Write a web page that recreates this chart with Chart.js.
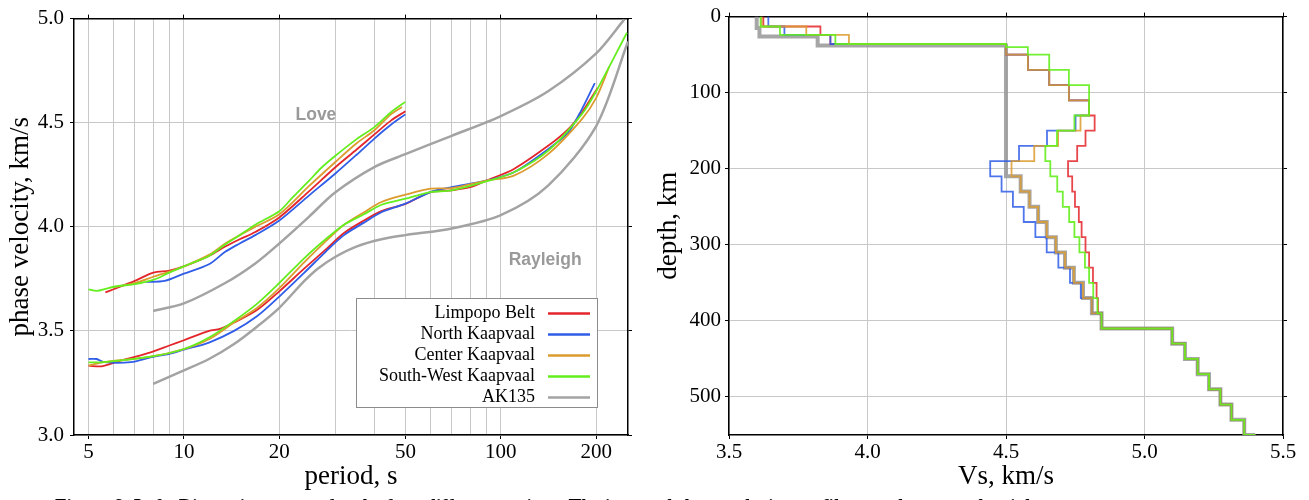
<!DOCTYPE html>
<html>
<head>
<meta charset="utf-8">
<script src="https://cdn.jsdelivr.net/npm/chart.js@4.4.1/dist/chart.umd.min.js"></script>
<style>
  body { margin:0; background:#fff; width:1309px; height:500px; overflow:hidden; position:relative; }
  canvas { position:absolute; top:0; }
  #left { left:0; }
  #right { left:650px; }
  #caption { position:absolute; left:55px; top:496px; font:bold 19px/19px "Liberation Serif", serif; white-space:nowrap; color:#000; }
</style>
</head>
<body>
<canvas id="left" width="650" height="500"></canvas>
<canvas id="right" width="659" height="500"></canvas>
<div id="caption">Figure 6: Left: Dispersion curves for the four different regions. The inverted shear-velocity profiles are shown on the right.</div>
<script>
// ---- left panel: phase velocity vs period ----
const periodGrid = [5,6,7,8,9,10,20,30,40,50,60,70,80,90,100,200];
const periodLabels = [5,10,20,50,100,200];
const velocityTicks = [3.0,3.5,4.0,4.5,5.0];

const loveLimpopoT = [5.65,6,7,8,9,10,12,13.5,15,16.8,20,24.8,30,35,40,45,50];
const loveLimpopoV = [3.685,3.70,3.74,3.78,3.79,3.81,3.86,3.905,3.94,3.975,4.045,4.17,4.285,4.37,4.445,4.51,4.555];
const loveNorthT = [7.6,8.7,10,12,13.5,15,16.8,20,24.8,30,35,40,45,50];
const loveNorthV = [3.735,3.74,3.775,3.82,3.88,3.92,3.96,4.03,4.15,4.255,4.345,4.425,4.49,4.54];
const loveCenterT = [6,7,8,9,10,12,13.5,15,16.8,20,24.8,30,35,40,45,48.8];
const loveCenterV = [3.71,3.73,3.76,3.785,3.81,3.865,3.92,3.96,4.0,4.06,4.195,4.31,4.40,4.465,4.54,4.575];
const loveSWT = [5,5.3,5.7,6,7,8,9,10,11,12,13.5,15,16.8,20,22,24.8,27,30,35,40,45,50];
const loveSWV = [3.70,3.692,3.703,3.712,3.725,3.745,3.78,3.81,3.835,3.86,3.915,3.96,4.01,4.075,4.14,4.22,4.28,4.34,4.42,4.48,4.55,4.60];
const loveAK135T = [8,10,13.5,16.8,20,24.8,30,40,50,70,100,141,200,245];
const loveAK135V = [3.596,3.632,3.73,3.824,3.92,4.048,4.165,4.288,4.349,4.437,4.532,4.651,4.833,4.995];

const rayLimpopoT = [5,5.5,6.3,7,7.85,9,10,12,13,14.4,17,20,24,28,32,37,42,50,60,70,80,90,110,141,163,180,202];
const rayLimpopoV = [3.333,3.33,3.357,3.375,3.397,3.43,3.455,3.50,3.51,3.54,3.60,3.69,3.80,3.89,3.97,4.03,4.075,4.11,4.167,4.175,4.19,4.222,4.278,4.389,4.468,4.548,4.667];
const rayNorthT = [5,5.3,5.6,6.8,7.85,9,10,12,14.4,17,20,24,28,32,37,42,50,60,70,90,110,141,163,180,198];
const rayNorthV = [3.365,3.365,3.35,3.35,3.373,3.39,3.41,3.444,3.50,3.57,3.665,3.78,3.88,3.96,4.02,4.07,4.111,4.167,4.19,4.222,4.262,4.373,4.452,4.563,4.69];
const rayCenterT = [5,5.6,7.85,10,12,14.4,17,20,24,28,32,37,42,50,60,70,90,110,141,180,200,220];
const rayCenterV = [3.333,3.35,3.376,3.413,3.46,3.54,3.61,3.705,3.83,3.93,4.01,4.07,4.119,4.154,4.183,4.186,4.222,4.246,4.349,4.516,4.619,4.77];
const raySWT = [5,5.6,7.85,10,12,14.4,17,20,24,28,32,37,42,50,60,70,90,110,141,180,200,250];
const raySWV = [3.349,3.35,3.376,3.413,3.468,3.548,3.63,3.73,3.85,3.94,4.01,4.06,4.106,4.135,4.167,4.175,4.218,4.262,4.365,4.54,4.651,4.932];
const rayAK135T = [8,10,12,14.4,17,20,24,26.5,30,35,42,50,70,100,141,200,252];
const rayAK135V = [3.246,3.31,3.365,3.437,3.52,3.611,3.74,3.80,3.855,3.905,3.94,3.96,3.992,4.056,4.198,4.484,4.89];

// ---- right panel: Vs vs depth (layer tops + velocities) ----
const vsTicks = [3.5,4.0,4.5,5.0,5.5];
const depthTicks = [0,100,200,300,400,500];

const limpopoDepth = [0,13,24,36,50,70,90,110,130,150,170,190,210,230,250,270,290,310,330,350,370,390];
const limpopoVs = [3.624,3.83,3.866,4.5,4.579,4.656,4.727,4.80,4.82,4.787,4.757,4.724,4.739,4.749,4.763,4.773,4.787,4.80,4.814,4.827,4.832,4.845];
const northDepth = [0,13,24,36,50,70,90,110,130,150,170,190,210,230,250,270,290,310,330,350,370,390];
const northVs = [3.642,3.70,3.866,4.5,4.579,4.656,4.727,4.80,4.751,4.648,4.547,4.443,4.484,4.525,4.564,4.606,4.647,4.689,4.731,4.77,4.81,4.845];
const centerDepth = [0,13,24,36,50,70,90,110,130,150,170,190,210,230,250,270,290,310,330,350,370,390];
const centerVs = [3.618,3.779,3.933,4.5,4.579,4.656,4.727,4.80,4.769,4.688,4.602,4.52,4.553,4.585,4.616,4.647,4.68,4.713,4.745,4.778,4.81,4.845];
const swDepth = [0,13,24,36,40,50,70,90,130,150,170,190,210,230,250,270,290,310,330,350,370,390];
const swVs = [3.614,3.684,3.884,4.5,4.579,4.656,4.727,4.80,4.747,4.684,4.642,4.66,4.685,4.705,4.728,4.747,4.765,4.785,4.80,4.815,4.83,4.845];
const ak135Depth = [0,15,26,38,210,230,250,270,290,310,330,350,370,390];
const ak135Vs = [3.60,3.61,3.82,4.5,4.553,4.585,4.616,4.647,4.68,4.713,4.745,4.778,4.81,4.845];
const tailDepth = [410,430,450,470,490,510,530,550];
const tailVs = [5.10,5.146,5.192,5.233,5.274,5.314,5.36,5.40];

const legendLabels = ['Limpopo Belt','North Kaapvaal','Center Kaapvaal','South-West Kaapvaal','AK135'];
const colors = { red:'#e3262b', blue:'#2f5de8', orange:'#dc9b2e', green:'#64ee1e', gray:'#a3a3a3' };
const legendColors = [colors.red, colors.blue, colors.orange, colors.green, colors.gray];
const waveLabels = [ { text:'Love', period:26.1, vel:4.537 }, { text:'Rayleigh', period:138, vel:3.842 } ];

Chart.defaults.font.family = '"Liberation Serif", serif';
Chart.defaults.color = '#000';

const tickFont = { size: 21 };
const titleFont = { size: 27 };
const gridColor = '#c8c8c8';

function curve(T, V) { return T.map((t, i) => ({ x: t, y: V[i] })); }

function steps(D, S) {
    const pts = [];
    for (let i = 0; i < D.length - 1; i++) {
        pts.push({ x: S[i], y: D[i] }, { x: S[i], y: D[i + 1] });
    }
    pts.push({ x: S[S.length - 1], y: D[D.length - 1] });
    return pts;
}

function ds(data, color, width, order, tension) {
    return { data, borderColor: color, borderWidth: width, order, showLine: true, pointRadius: 0,
             fill: false, tension: tension || 0, borderJoinStyle: tension ? 'round' : 'miter' };
}

const boxLegend = {
    id: 'boxLegend',
    afterDatasetsDraw(chart) {
        const { ctx, chartArea: a } = chart;
        const w = 241, h = 109, x0 = a.right - 31 - w, y0 = a.bottom - 28 - h;
        ctx.save();
        ctx.fillStyle = '#fff';
        ctx.fillRect(x0, y0, w, h);
        ctx.strokeStyle = '#8c8c8c';
        ctx.lineWidth = 1;
        ctx.strokeRect(x0 + 0.5, y0 + 0.5, w, h);
        ctx.font = '18px "Liberation Serif", serif';
        ctx.textAlign = 'right';
        ctx.textBaseline = 'middle';
        legendLabels.forEach((lab, i) => {
            const y = y0 + 15 + i * 21;
            ctx.fillStyle = '#000';
            ctx.fillText(lab, x0 + 179, y);
            ctx.strokeStyle = legendColors[i];
            ctx.lineWidth = 2.5;
            ctx.beginPath();
            ctx.moveTo(x0 + 192, y + 0.5);
            ctx.lineTo(x0 + 234, y + 0.5);
            ctx.stroke();
        });
        ctx.restore();
    }
};

const waveText = {
    id: 'waveText',
    afterDatasetsDraw(chart) {
        const { ctx, scales } = chart;
        ctx.save();
        ctx.font = 'bold 17.5px "Liberation Sans", sans-serif';
        ctx.fillStyle = '#9a9a9a';
        ctx.textAlign = 'center';
        ctx.textBaseline = 'middle';
        waveLabels.forEach(l => ctx.fillText(l.text, scales.x.getPixelForValue(l.period), scales.y.getPixelForValue(l.vel)));
        ctx.restore();
    }
};

function mirror(base, pos, size, tickVals) {
    return Object.assign({}, base, {
        position: pos,
        afterBuildTicks: s => { s.ticks = tickVals.map(v => ({ value: v })); },
        afterFit: s => { if (pos === 'top') s.height = size; else s.width = size; },
        ticks: { display: false },
        grid: { drawOnChartArea: false, tickLength: 4, tickColor: '#000' },
        border: { color: '#000', width: 1.5 },
        title: { display: false }
    });
}

// left chart
const leftX = { type: 'logarithmic', min: 4.5, max: 252 };
const leftY = { type: 'linear', min: 3, max: 5 };

new Chart(document.getElementById('left'), {
    type: 'scatter',
    data: {
        datasets: [
            ds(curve(loveAK135T, loveAK135V), colors.gray, 2.5, 10, 0.3),
            ds(curve(rayAK135T, rayAK135V), colors.gray, 2.5, 10, 0.3),
            ds(curve(loveLimpopoT, loveLimpopoV), colors.red, 1.8, 4, 0.3),
            ds(curve(rayLimpopoT, rayLimpopoV), colors.red, 1.8, 4, 0.3),
            ds(curve(loveNorthT, loveNorthV), colors.blue, 1.8, 3, 0.3),
            ds(curve(rayNorthT, rayNorthV), colors.blue, 1.8, 3, 0.3),
            ds(curve(loveCenterT, loveCenterV), colors.orange, 1.8, 2, 0.3),
            ds(curve(rayCenterT, rayCenterV), colors.orange, 1.8, 2, 0.3),
            ds(curve(loveSWT, loveSWV), colors.green, 1.8, 1, 0.3),
            ds(curve(raySWT, raySWV), colors.green, 1.8, 1, 0.3)
        ]
    },
    options: {
        responsive: false,
        animation: false,
        devicePixelRatio: 1,
        layout: { padding: { left: 0, right: 0, top: 0, bottom: 7 } },
        plugins: { legend: { display: false }, tooltip: { enabled: false } },
        scales: {
            x: Object.assign({}, leftX, {
                position: 'bottom',
                afterBuildTicks: s => { s.ticks = periodGrid.map(v => ({ value: v })); },
                afterFit: s => { s.height = 58; },
                ticks: { autoSkip: false, maxRotation: 0, padding: 1, font: tickFont, color: '#000',
                         callback: v => periodLabels.includes(v) ? String(v) : '' },
                grid: { color: gridColor, lineWidth: 1, tickLength: 4,
                        tickColor: c => periodLabels.includes(c.tick && c.tick.value) ? '#000' : 'rgba(0,0,0,0)' },
                border: { color: '#000', width: 1.5 },
                title: { display: true, text: 'period, s', font: titleFont, color: '#000', padding: 0 }
            }),
            x2: mirror(leftX, 'top', 15, periodLabels),
            y: Object.assign({}, leftY, {
                position: 'left',
                afterBuildTicks: s => { s.ticks = velocityTicks.map(v => ({ value: v })); },
                afterFit: s => { s.width = 74; },
                ticks: { padding: 6, font: tickFont, color: '#000', callback: v => v.toFixed(1) },
                grid: { color: gridColor, lineWidth: 1, tickLength: 4, tickColor: '#000' },
                border: { color: '#000', width: 1.5 },
                title: { display: true, text: 'phase velocity, km/s', font: titleFont, color: '#000', padding: { top: 5, bottom: 0 } }
            }),
            y2: mirror(leftY, 'right', 22, velocityTicks)
        }
    },
    plugins: [waveText, boxLegend]
});

// right chart
const rightX = { type: 'linear', min: 3.5, max: 5.5 };
const rightY = { type: 'linear', min: 0, max: 550, reverse: true };

new Chart(document.getElementById('right'), {
    type: 'scatter',
    data: {
        datasets: [
            ds(steps(ak135Depth.concat(tailDepth), ak135Vs.concat(tailVs)), 'rgba(150,150,150,0.85)', 4, 10),
            ds(steps(limpopoDepth.concat(tailDepth), limpopoVs.concat(tailVs)), 'rgba(227,38,43,0.85)', 1.8, 4),
            ds(steps(northDepth.concat(tailDepth), northVs.concat(tailVs)), 'rgba(47,93,232,0.85)', 1.8, 3),
            ds(steps(centerDepth.concat(tailDepth), centerVs.concat(tailVs)), 'rgba(220,155,46,0.85)', 1.8, 2),
            ds(steps(swDepth.concat(tailDepth), swVs.concat(tailVs)), 'rgba(100,238,30,0.9)', 1.8, 1)
        ]
    },
    options: {
        responsive: false,
        animation: false,
        devicePixelRatio: 1,
        layout: { padding: { left: 0, right: 0, top: 0, bottom: 7 } },
        plugins: { legend: { display: false }, tooltip: { enabled: false } },
        scales: {
            x: Object.assign({}, rightX, {
                position: 'bottom',
                afterBuildTicks: s => { s.ticks = vsTicks.map(v => ({ value: v })); },
                afterFit: s => { s.height = 58; },
                ticks: { autoSkip: false, maxRotation: 0, padding: 1, font: tickFont, color: '#000',
                         callback: v => v.toFixed(1) },
                grid: { color: gridColor, lineWidth: 1, tickLength: 4, tickColor: '#000' },
                border: { color: '#000', width: 1.5 },
                title: { display: true, text: 'Vs, km/s', font: titleFont, color: '#000', padding: 0 }
            }),
            x2: mirror(rightX, 'top', 15, vsTicks),
            y: Object.assign({}, rightY, {
                position: 'left',
                afterBuildTicks: s => { s.ticks = depthTicks.map(v => ({ value: v })); },
                afterFit: s => { s.width = 79; },
                ticks: { padding: 4, font: tickFont, color: '#000', callback: v => String(v) },
                grid: { color: gridColor, lineWidth: 1, tickLength: 4, tickColor: '#000' },
                border: { color: '#000', width: 1.5 },
                title: { display: true, text: 'depth, km', font: titleFont, color: '#000', padding: { top: 3, bottom: 0 } }
            }),
            y2: mirror(rightY, 'right', 26, depthTicks)
        }
    }
});
</script>
</body>
</html>
